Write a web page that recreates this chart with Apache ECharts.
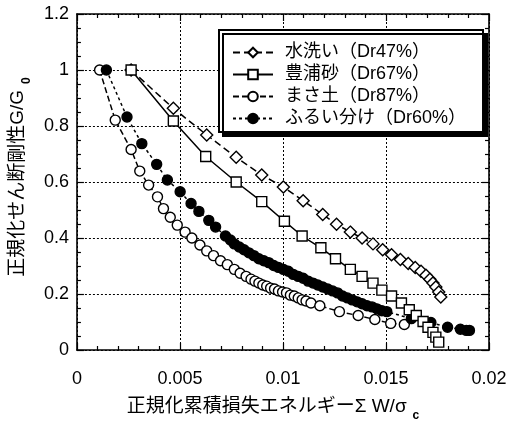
<!DOCTYPE html>
<html>
<head>
<meta charset="utf-8">
<script src="https://cdn.jsdelivr.net/npm/echarts@6/dist/echarts.min.js"></script>
<style>html,body{margin:0;padding:0;background:#fff}#c{width:513px;height:427px}</style>
</head>
<body>
<div id="c"></div>
<script>
const seriesNames = ['水洗い（Dr47%）', '豊浦砂（Dr67%）', 'まさ土（Dr87%）', 'ふるい分け（Dr60%）'];
const xAxisTitle = '正規化累積損失エネルギーΣ W/σ';
const xAxisSub = 'c';
const yAxisTitle = '正規化せん断剛性G/G';
const yAxisSub = '0';

// 水洗い (Dr47%)
const washedX = [0.00263, 0.00468, 0.0063, 0.00773, 0.00897, 0.01002, 0.01098, 0.01193, 0.0126, 0.01327, 0.01384, 0.01437, 0.01484, 0.01527, 0.0157, 0.01608, 0.01642, 0.0167, 0.01694, 0.01713, 0.01728, 0.01742, 0.01756, 0.01766];
const washedY = [1.0, 0.863, 0.768, 0.688, 0.625, 0.582, 0.533, 0.484, 0.449, 0.421, 0.400, 0.379, 0.358, 0.340, 0.323, 0.309, 0.295, 0.281, 0.267, 0.253, 0.239, 0.225, 0.207, 0.189];

// 豊浦砂 (Dr67%)
const toyouraX = [0.00263, 0.00468, 0.00625, 0.00773, 0.00897, 0.01007, 0.01093, 0.01184, 0.01255, 0.01327, 0.01384, 0.01437, 0.0148, 0.01527, 0.01575, 0.01613, 0.01647, 0.0168, 0.01704, 0.01728, 0.01742, 0.01756];
const toyouraY = [1.0, 0.818, 0.691, 0.600, 0.530, 0.460, 0.407, 0.365, 0.326, 0.288, 0.263, 0.239, 0.214, 0.193, 0.168, 0.144, 0.123, 0.102, 0.081, 0.063, 0.046, 0.028];

// まさ土 (Dr87%)
const masaX = [0.0011, 0.00186, 0.00263, 0.00305, 0.00348, 0.00391, 0.0042, 0.00453, 0.00487, 0.00525, 0.00558, 0.00597, 0.0063, 0.00663, 0.00697, 0.0073, 0.00764, 0.00792, 0.00821, 0.00845, 0.00864, 0.00883, 0.00902, 0.00921, 0.0094, 0.00959, 0.00978, 0.00998, 0.01017, 0.01036, 0.01055, 0.01074, 0.01093, 0.01112, 0.01136, 0.01179, 0.01274, 0.01365, 0.01446, 0.01523, 0.01589];
const masaY = [1.0, 0.821, 0.716, 0.639, 0.589, 0.547, 0.505, 0.474, 0.446, 0.421, 0.400, 0.375, 0.354, 0.337, 0.319, 0.305, 0.288, 0.274, 0.263, 0.253, 0.246, 0.239, 0.232, 0.228, 0.221, 0.218, 0.211, 0.207, 0.204, 0.196, 0.193, 0.186, 0.179, 0.175, 0.168, 0.158, 0.137, 0.123, 0.109, 0.095, 0.091];

// ふるい分け (Dr60%)
const sievedX = [0.00143, 0.00243, 0.00315, 0.00387, 0.00439, 0.00501, 0.00554, 0.00592, 0.0064, 0.00673, 0.00721, 0.00745, 0.00764, 0.00788, 0.00811, 0.00835, 0.00859, 0.00883, 0.00907, 0.00931, 0.00955, 0.00978, 0.01002, 0.01026, 0.0105, 0.01074, 0.01098, 0.01122, 0.01146, 0.01169, 0.01193, 0.01217, 0.01241, 0.01265, 0.01289, 0.01313, 0.01336, 0.0136, 0.01384, 0.01408, 0.01432, 0.01456, 0.0148, 0.01504, 0.01623, 0.01718, 0.01799, 0.01861, 0.0189, 0.01905];
const sievedY = [1.0, 0.832, 0.737, 0.663, 0.607, 0.565, 0.523, 0.495, 0.463, 0.439, 0.407, 0.393, 0.379, 0.368, 0.358, 0.347, 0.337, 0.326, 0.319, 0.312, 0.302, 0.295, 0.288, 0.281, 0.270, 0.263, 0.256, 0.246, 0.239, 0.232, 0.225, 0.218, 0.211, 0.204, 0.193, 0.186, 0.179, 0.172, 0.165, 0.158, 0.154, 0.147, 0.140, 0.137, 0.112, 0.098, 0.081, 0.074, 0.070, 0.070];

const pair = (xs, ys) => xs.map((x, i) => [x, ys[i]]);
const FONT = "'Liberation Sans', Arial, 'Noto Sans CJK JP', sans-serif";

function mkSeries(name, xs, ys, symbol, size, fill, dash, z) {
  return {
    name: name, type: 'line', data: pair(xs, ys),
    symbol: symbol, symbolSize: size, showSymbol: true, z: z,
    lineStyle: { color: '#000', width: 1.5, type: dash },
    itemStyle: { color: fill, borderColor: '#000', borderWidth: 1.4 },
    emphasis: { disabled: true }
  };
}

const chart = echarts.init(document.getElementById('c'));
const axisCommon = {
  type: 'value',
  axisLine: { show: true, onZero: false, lineStyle: { color: '#000', width: 1.6 } },
  axisTick: { show: true, inside: true, length: 7, lineStyle: { color: '#000', width: 1.2 } },
  minorTick: { show: true, length: 4, lineStyle: { color: '#000', width: 1.2 } }
};
const titleRich = {
  t: { fontSize: 19, fontFamily: FONT, color: '#000', lineHeight: 22, verticalAlign: 'top' },
  s: { fontSize: 12, fontFamily: FONT, color: '#000', fontWeight: 'bold', lineHeight: 14, verticalAlign: 'top', padding: [13, 0, 0, 6] }
};
chart.setOption({
  animation: false,
  backgroundColor: '#fff',
  grid: { left: 70, right: 24, top: 14, bottom: 71, containLabel: false },
  xAxis: [
    Object.assign({}, axisCommon, {
      position: 'bottom', min: 0, max: 0.02, interval: 0.005,
      minorTick: Object.assign({}, axisCommon.minorTick, { splitNumber: 5 }),
      splitLine: { show: true, lineStyle: { color: '#000', type: [2, 2], width: 1 } },
      axisLabel: { color: '#000', fontSize: 18, fontFamily: FONT, margin: 20,
        formatter: v => String(+v.toFixed(4)) },
      name: '{t|' + xAxisTitle + '}{s|' + xAxisSub + '}',
      nameLocation: 'middle', nameGap: 47,
      nameTextStyle: { color: '#000', fontFamily: FONT, fontSize: 19, padding: [0, 20, 0, 0], rich: titleRich }
    }),
    Object.assign({}, axisCommon, {
      position: 'top', min: 0, max: 0.02, interval: 0.005,
      minorTick: Object.assign({}, axisCommon.minorTick, { splitNumber: 5 }),
      splitLine: { show: false }, axisLabel: { show: false }
    })
  ],
  yAxis: [
    Object.assign({}, axisCommon, {
      position: 'left', min: 0, max: 1.2, interval: 0.2,
      minorTick: Object.assign({}, axisCommon.minorTick, { splitNumber: 4 }),
      splitLine: { show: true, lineStyle: { color: '#000', type: [2, 2], width: 1 } },
      axisLabel: { color: '#000', fontSize: 18, fontFamily: FONT, margin: 8,
        formatter: v => String(+v.toFixed(2)) },
      name: '{t|' + yAxisTitle + '}{s|' + yAxisSub + '}',
      nameLocation: 'middle', nameGap: 40, nameRotate: 90,
      nameTextStyle: { color: '#000', fontFamily: FONT, fontSize: 19, padding: [0, 0, 0, 10], rich: titleRich }
    }),
    Object.assign({}, axisCommon, {
      position: 'right', min: 0, max: 1.2, interval: 0.2,
      minorTick: Object.assign({}, axisCommon.minorTick, { splitNumber: 4 }),
      splitLine: { show: false }, axisLabel: { show: false }
    })
  ],
  legend: {
    left: 219, top: 30, orient: 'vertical',
    itemWidth: 40, itemHeight: 12, itemGap: 1,
    padding: [12, 17, 3, 13],
    backgroundColor: '#fff', borderColor: '#000', borderWidth: 2,
    shadowColor: '#000', shadowBlur: 0, shadowOffsetX: 4, shadowOffsetY: 4,
    textStyle: { fontSize: 18, color: '#000', fontFamily: FONT, lineHeight: 21, padding: [0, 0, 0, 7] },
    data: seriesNames
  },
  series: [
    mkSeries(seriesNames[0], washedX, washedY, 'diamond', 12, '#fff', [7, 4], 3),
    mkSeries(seriesNames[1], toyouraX, toyouraY, 'rect', 10, '#fff', 'solid', 5),
    mkSeries(seriesNames[2], masaX, masaY, 'circle', 10, '#fff', [6, 3], 2),
    mkSeries(seriesNames[3], sievedX, sievedY, 'circle', 10, '#000', [3, 3], 4)
  ]
});
</script>
</body>
</html>
